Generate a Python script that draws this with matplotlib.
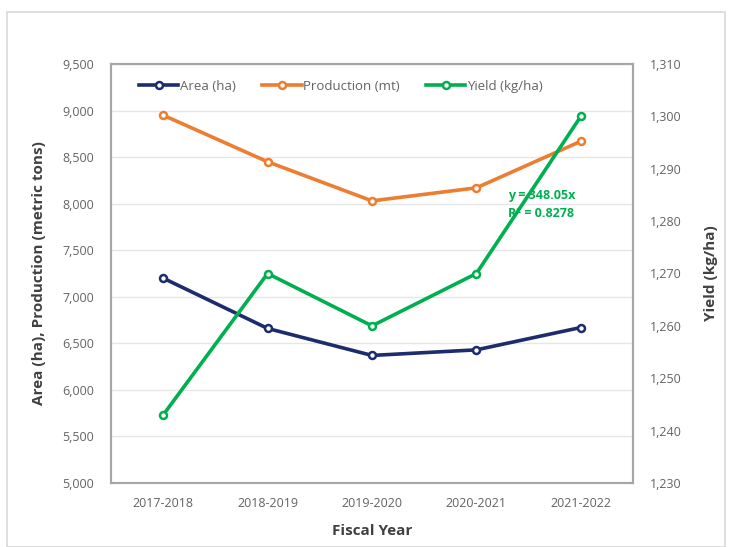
import matplotlib.pyplot as plt
from matplotlib.patches import Rectangle

plt.rcParams["font.family"] = ["Open Sans", "DejaVu Sans"]

years = ["2017-2018", "2018-2019", "2019-2020", "2020-2021", "2021-2022"]
area = [7200, 6660, 6370, 6430, 6670]
production = [8950, 8450, 8030, 8170, 8670]
yield_kg = [1243, 1270, 1260, 1270, 1300]

NAVY = "#1c2c6c"
ORANGE = "#ed7d31"
GREEN = "#00b050"
TICK = "#636363"
LABEL = "#404040"

fig = plt.figure(figsize=(7.31, 5.47), dpi=100)
fig.patches.append(Rectangle((7 / 731, 0), 718 / 731, 535 / 547, transform=fig.transFigure,
                             fill=False, edgecolor="#d9d9d9", linewidth=1.2))

ax = fig.add_axes([111 / 731, 64 / 547, 522 / 731, 419 / 547])
ax2 = ax.twinx()

x = list(range(len(years)))
mk = dict(marker="o", markersize=5, markerfacecolor="white", markeredgewidth=1.8, linewidth=2.6)
l1, = ax.plot(x, area, color=NAVY, markeredgecolor=NAVY, label="Area (ha)", **mk)
l2, = ax.plot(x, production, color=ORANGE, markeredgecolor=ORANGE, label="Production (mt)", **mk)
l3, = ax2.plot(x, yield_kg, color=GREEN, markeredgecolor=GREEN, label="Yield (kg/ha)", **mk)

ax.set_xlim(-0.5, len(years) - 0.5)
ax.set_ylim(5000, 9500)
ax.set_yticks(range(5000, 9501, 500))
ax.set_yticklabels([f"{v:,}" for v in range(5000, 9501, 500)])
ax2.set_ylim(1230, 1310)
ax2.set_yticks(range(1230, 1311, 10))
ax2.set_yticklabels([f"{v:,}" for v in range(1230, 1311, 10)])
ax.set_xticks(x)
ax.set_xticklabels(years)

ax.grid(axis="y", color="#e6e6e6", linewidth=1)
ax.set_axisbelow(True)
for a in (ax, ax2):
    for s in a.spines.values():
        s.set_color("#a6a6a6")
        s.set_linewidth(1.5)
    a.tick_params(length=0, labelsize=9, colors=TICK, pad=12)
ax.tick_params(axis="x", pad=10)

ax.set_xlabel("Fiscal Year", fontsize=11, fontweight="bold", color=LABEL, labelpad=10)
ax.set_ylabel("Area (ha), Production (metric tons)", fontsize=11, fontweight="bold",
              color=LABEL, labelpad=12)
ax2.set_ylabel("Yield (kg/ha)", fontsize=11, fontweight="bold", color=LABEL, labelpad=16)

ax.legend(handles=[l1, l2, l3], loc="upper center", bbox_to_anchor=(0.44, 0.99), ncol=3,
          frameon=False, fontsize=9.5, labelcolor=TICK, handlelength=3.0, columnspacing=2.0,
          handletextpad=0.1)

ax.text(0.76, 0.665, "y = 348.05x\nR² = 0.8278", transform=ax.transAxes, color=GREEN,
        fontsize=9, fontweight="bold", ha="left", va="center", linespacing=1.5)

fig.savefig("out.png", dpi=100)
